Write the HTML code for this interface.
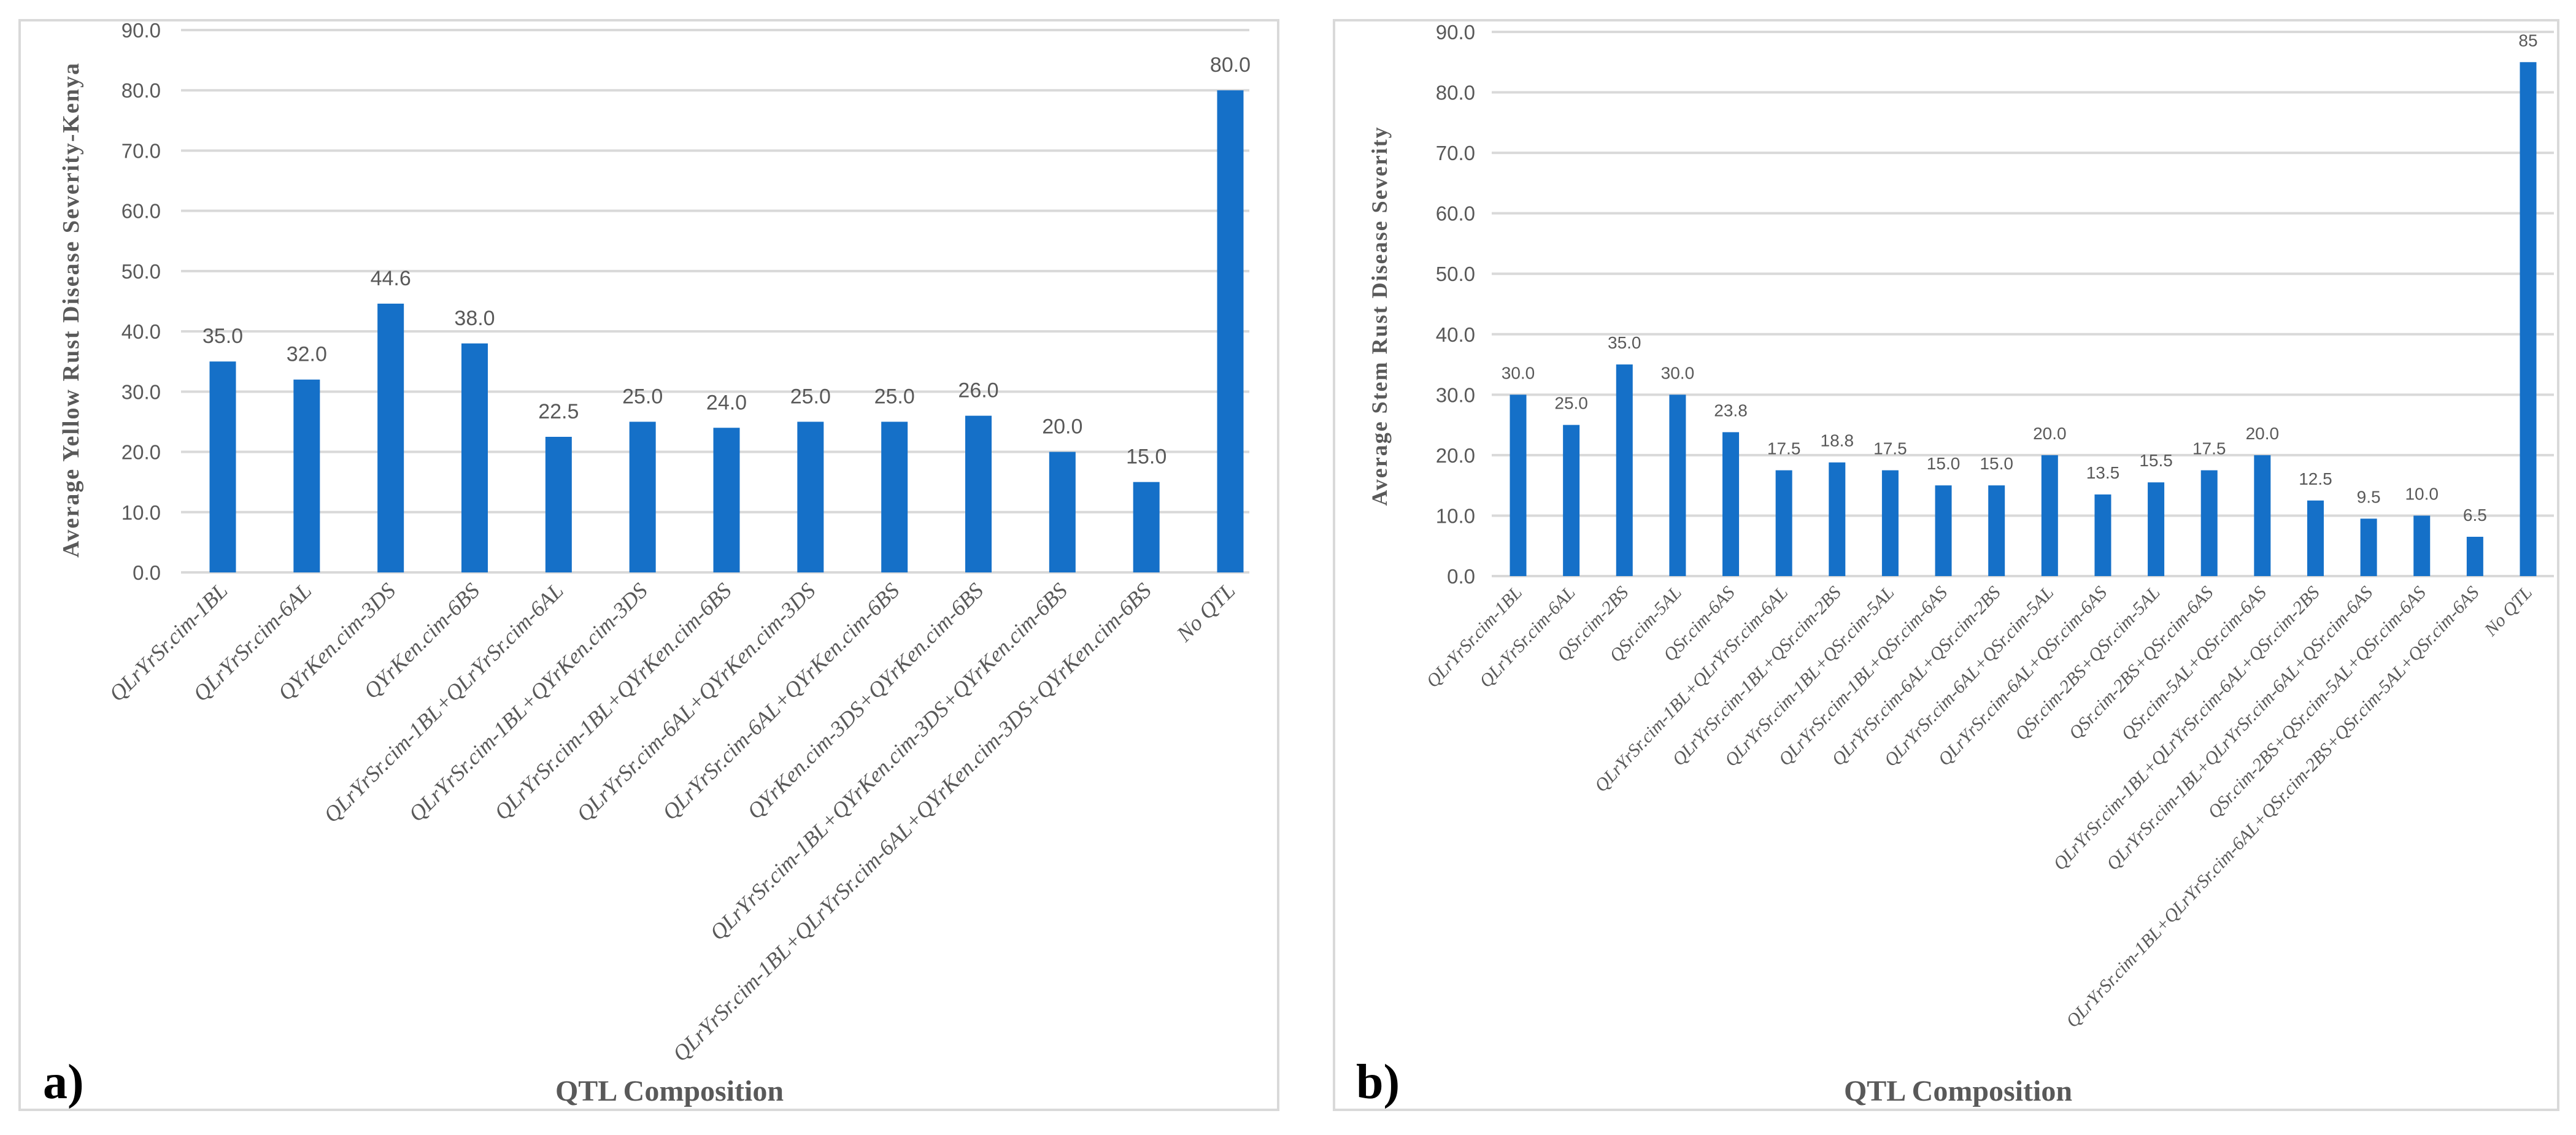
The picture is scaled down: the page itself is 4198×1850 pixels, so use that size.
<!DOCTYPE html>
<html><head><meta charset="utf-8"><title>QTL rust severity charts</title>
<style>
html,body{margin:0;padding:0;background:#fff;}
svg{display:block;}
.tick{font-family:"Liberation Sans",sans-serif;font-size:33px;fill:#595959;}
.val{font-family:"Liberation Sans",sans-serif;fill:#595959;}
.cat{font-family:"Liberation Serif",serif;font-style:italic;fill:#595959;}
.ttl{font-family:"Liberation Serif",serif;font-weight:bold;fill:#595959;}
.pl{font-family:"Liberation Serif",serif;font-weight:bold;fill:#000;}
</style></head>
<body>
<svg id="fig" width="4198" height="1850" viewBox="0 0 4198 1850" xmlns="http://www.w3.org/2000/svg">
<rect x="0" y="0" width="4198" height="1850" fill="#fff"/>
<rect x="32" y="33" width="2051" height="1776" fill="none" stroke="#d9d9d9" stroke-width="4"/>
<rect x="2174" y="33" width="1995" height="1776" fill="none" stroke="#d9d9d9" stroke-width="4"/>
<g id="chartA"></g>
<g id="chartB"></g>
</svg>
<script>
const catsA = ["QLrYrSr.cim-1BL","QLrYrSr.cim-6AL","QYrKen.cim-3DS","QYrKen.cim-6BS","QLrYrSr.cim-1BL+QLrYrSr.cim-6AL","QLrYrSr.cim-1BL+QYrKen.cim-3DS","QLrYrSr.cim-1BL+QYrKen.cim-6BS","QLrYrSr.cim-6AL+QYrKen.cim-3DS","QLrYrSr.cim-6AL+QYrKen.cim-6BS","QYrKen.cim-3DS+QYrKen.cim-6BS","QLrYrSr.cim-1BL+QYrKen.cim-3DS+QYrKen.cim-6BS","QLrYrSr.cim-1BL+QLrYrSr.cim-6AL+QYrKen.cim-3DS+QYrKen.cim-6BS","No QTL"];
const valsA = [35.0,32.0,44.6,38.0,22.5,25.0,24.0,25.0,25.0,26.0,20.0,15.0,80.0];
const labelsA = ["35.0","32.0","44.6","38.0","22.5","25.0","24.0","25.0","25.0","26.0","20.0","15.0","80.0"];
const catsB = ["QLrYrSr.cim-1BL","QLrYrSr.cim-6AL","QSr.cim-2BS","QSr.cim-5AL","QSr.cim-6AS","QLrYrSr.cim-1BL+QLrYrSr.cim-6AL","QLrYrSr.cim-1BL+QSr.cim-2BS","QLrYrSr.cim-1BL+QSr.cim-5AL","QLrYrSr.cim-1BL+QSr.cim-6AS","QLrYrSr.cim-6AL+QSr.cim-2BS","QLrYrSr.cim-6AL+QSr.cim-5AL","QLrYrSr.cim-6AL+QSr.cim-6AS","QSr.cim-2BS+QSr.cim-5AL","QSr.cim-2BS+QSr.cim-6AS","QSr.cim-5AL+QSr.cim-6AS","QLrYrSr.cim-1BL+QLrYrSr.cim-6AL+QSr.cim-2BS","QLrYrSr.cim-1BL+QLrYrSr.cim-6AL+QSr.cim-6AS","QSr.cim-2BS+QSr.cim-5AL+QSr.cim-6AS","QLrYrSr.cim-1BL+QLrYrSr.cim-6AL+QSr.cim-2BS+QSr.cim-5AL+QSr.cim-6AS","No QTL"];
const valsB = [30.0,25.0,35.0,30.0,23.8,17.5,18.8,17.5,15.0,15.0,20.0,13.5,15.5,17.5,20.0,12.5,9.5,10.0,6.5,85];
const labelsB = ["30.0","25.0","35.0","30.0","23.8","17.5","18.8","17.5","15.0","15.0","20.0","13.5","15.5","17.5","20.0","12.5","9.5","10.0","6.5","85"];
const ticks = [0,10,20,30,40,50,60,70,80,90];
const tickLabels = ["0.0","10.0","20.0","30.0","40.0","50.0","60.0","70.0","80.0","90.0"];

const NS="http://www.w3.org/2000/svg";
function mk(parent,tag,attrs,text){const e=document.createElementNS(NS,tag);for(const k in attrs)e.setAttribute(k,attrs[k]);if(text!==undefined)e.textContent=text;parent.appendChild(e);return e;}

function drawChart(g,cats,vals,labels,cfg){
  const yScale=v=>cfg.y0-(v/90)*(cfg.y0-cfg.y90);
  const step=(cfg.xLast-cfg.xFirst)/(cats.length-1);
  const xScale=i=>cfg.xFirst+i*step;
  ticks.forEach((t,i)=>{
    const y=yScale(t);
    const ln=mk(g,"line",{x1:cfg.gx0,x2:cfg.gx1,y1:y,y2:y,stroke:"#d9d9d9","stroke-width":4});
    
    
    const tl=mk(g,"text",{x:cfg.tickX,y:y+12,"text-anchor":"end",class:"tick"},tickLabels[i]);
    
    
  });
  vals.forEach((v,i)=>{
    const cx=xScale(i),yt=yScale(v);
    const b=mk(g,"rect",{x:cx-cfg.bw/2,y:yt,width:cfg.bw,height:yScale(0)-yt,fill:"#1570c8"});
    
    
    const vl=mk(g,"text",{x:cx,y:yt-cfg.valGap,"text-anchor":"middle",class:"val","font-size":cfg.valFs},labels[i]);
    
    
    const ax=cx+cfg.catDx, ay=yScale(0)+cfg.catDy;
    const cl=mk(g,"text",{x:ax,y:ay,"text-anchor":"end",class:"cat","font-size":cfg.catFs,transform:`rotate(${-cfg.angle} ${ax} ${ay})`},cats[i]);
    
    
  });
  const yt=mk(g,"text",{x:cfg.ytX,y:cfg.ytY,"text-anchor":"middle",class:"ttl","font-size":cfg.ytFs,"letter-spacing":cfg.ytLs,transform:`rotate(-90 ${cfg.ytX} ${cfg.ytY})`},cfg.ytText);
  
  
  const xt=mk(g,"text",{x:cfg.xtX,y:1794,"text-anchor":"middle",class:"ttl","font-size":48},"QTL Composition");
  
  
  const pl=mk(g,"text",{x:cfg.plX,y:1790,class:"pl","font-size":80},cfg.plText);
  
  
}

drawChart(document.getElementById("chartA"),catsA,valsA,labelsA,{
  y0:933,y90:49,xFirst:363,xLast:2005,gx0:295,gx1:2036,bw:43,tickX:262,
  valFs:34,valGap:30,catFs:36,catDx:10,catDy:32,angle:45,
  ytX:128,ytY:505,ytFs:38,ytLs:2,ytText:"Average Yellow  Rust Disease Severity-Kenya",
  xtX:1091,plX:70,plText:"a)"});
drawChart(document.getElementById("chartB"),catsB,valsB,labelsB,{
  y0:939,y90:52,xFirst:2474,xLast:4120,gx0:2431,gx1:4162,bw:27,tickX:2404,
  valFs:28,valGap:26,catFs:30,catDx:8,catDy:28,angle:47,
  ytX:2260,ytY:515,ytFs:36,ytLs:2,ytText:"Average Stem  Rust Disease Severity",
  xtX:3191,plX:2210,plText:"b)"});
</script>
</body></html>
